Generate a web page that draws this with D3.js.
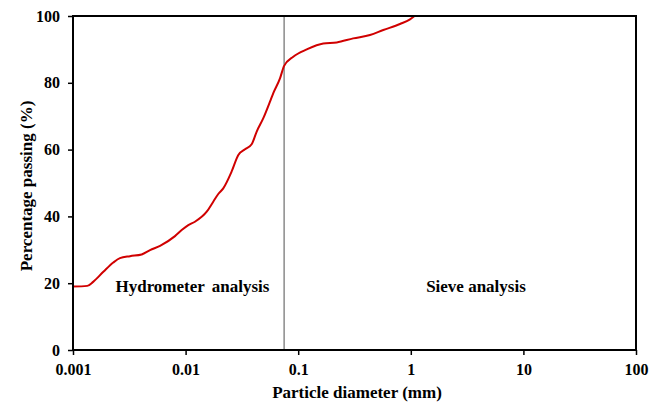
<!DOCTYPE html>
<html><head><meta charset="utf-8">
<script src="https://cdn.jsdelivr.net/npm/d3@7"></script>
<style>body{margin:0;background:#fff}svg{display:block}text{font-family:"Liberation Serif","Times New Roman",serif;font-weight:bold;fill:#000}</style>
</head><body><svg id="c" width="665" height="405"></svg>
<script>
const diameter = [0.001,0.00134,0.00151,0.00186,0.00228,0.00261,0.00321,0.00407,0.00483,0.00593,0.00805,0.00923,0.01057,0.0121,0.0154,0.0176,0.0195,0.0216,0.0256,0.0294,0.0337,0.0386,0.0428,0.049,0.057,0.0601,0.0689,0.0748,0.0904,0.119,0.167,0.220,0.308,0.434,0.570,0.802,0.984,1.08];
const passing  = [19.0,19.2,20.4,23.4,26.2,27.5,28.1,28.6,29.9,31.2,34.1,35.9,37.4,38.4,41.4,44.4,46.7,48.4,53.4,58.4,60.1,61.6,65.4,69.4,74.9,76.9,81.3,85.0,87.8,90.0,91.8,92.1,93.3,94.3,95.8,97.6,99.0,100];
const xTicks = [0.001,0.01,0.1,1,10,100];
const xTickLabels = ["0.001","0.01","0.1","1","10","100"];
const yTicks = [0,20,40,60,80,100];
const divider = 0.075;
const regionLabels = ["Hydrometer analysis","Sieve analysis"];
const regionX = [0.0115, 3.79];

const svg = d3.select("#c");
const m = {l:73,t:16,r:636,b:350};
const x = d3.scaleLog().domain([0.001,100]).range([m.l,m.r]);
const y = d3.scaleLinear().domain([0,100]).range([m.b,m.t]);

// divider
svg.append("line").attr("x1",x(divider)).attr("x2",x(divider)).attr("y1",m.t).attr("y2",m.b)
  .attr("stroke","#8a8a8a").attr("stroke-width",1.5);

// curve
const line = d3.line().x((d,i)=>x(diameter[i])).y(d=>y(d)).curve(d3.curveMonotoneX);
svg.append("path").attr("d",line(passing)).attr("fill","none").attr("stroke","#d00000").attr("stroke-width",2);

// frame
svg.append("rect").attr("x",m.l).attr("y",m.t).attr("width",m.r-m.l).attr("height",m.b-m.t)
  .attr("fill","none").attr("stroke","#000").attr("stroke-width",2);

// axes
const ax = svg.append("g").attr("transform",`translate(0,${m.b})`)
  .call(d3.axisBottom(x).tickValues(xTicks).tickFormat((d,i)=>xTickLabels[i]).tickSize(5).tickPadding(9));
const ay = svg.append("g").attr("transform",`translate(${m.l},0)`)
  .call(d3.axisLeft(y).tickValues(yTicks).tickSize(5).tickPadding(8));
[ax,ay].forEach(g=>{
  g.select(".domain").remove();
  g.selectAll(".tick line").attr("stroke","#000").attr("stroke-width",1.5);
  g.selectAll(".tick text").style("font-family","'Liberation Serif',serif").style("font-weight","bold").style("font-size","16px").attr("fill","#000");
});

svg.append("text").attr("x",357).attr("y",398).attr("text-anchor","middle").style("font-size","17px").text("Particle diameter (mm)");
svg.append("text").attr("transform",`translate(32,186) rotate(-90)`).attr("text-anchor","middle").style("font-size","17px").text("Percentage passing (%)");

regionLabels.forEach((t,i)=>{
  svg.append("text").attr("x",x(regionX[i])).attr("y",y(19)+5).attr("text-anchor","middle").style("font-size","17px").style("word-spacing",i===0?"3px":"0px").text(t);
});
</script></body></html>
